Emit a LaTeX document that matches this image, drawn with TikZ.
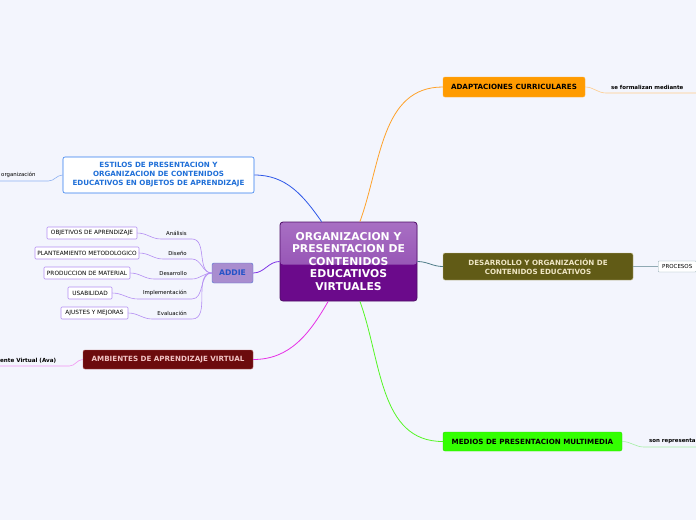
\documentclass[tikz,border=0pt]{standalone}
\usepackage{fontspec}
\setmainfont{DejaVu Sans}
\definecolor{fondo}{HTML}{F3F5FD}
\definecolor{moradoA}{HTML}{A86FC3}
\definecolor{moradoB}{HTML}{8A42AC}
\definecolor{moradoC}{HTML}{6B0A8B}
\definecolor{moradoD}{HTML}{4E0D66}
\definecolor{naranja}{HTML}{FF9B00}
\definecolor{naranjaL}{HTML}{FFA22A}
\definecolor{naranjaS}{HTML}{FFCB8A}
\definecolor{azul}{HTML}{2F7BEF}
\definecolor{azulT}{HTML}{1F6FD8}
\definecolor{azulL}{HTML}{2D57E8}
\definecolor{azulS}{HTML}{8FB2F2}
\definecolor{addieF}{HTML}{A98DCF}
\definecolor{addieT}{HTML}{2453C8}
\definecolor{lila}{HTML}{B48EF3}
\definecolor{lilaL}{HTML}{7F35E6}
\definecolor{granate}{HTML}{6C0B0D}
\definecolor{granateB}{HTML}{B05A5A}
\definecolor{rosaT}{HTML}{F2C4C4}
\definecolor{magenta}{HTML}{E630E6}
\definecolor{magentaS}{HTML}{F294F2}
\definecolor{oliva}{HTML}{615B16}
\definecolor{olivaB}{HTML}{C9C28F}
\definecolor{olivaT}{HTML}{EFE6C4}
\definecolor{petroleo}{HTML}{4E7C88}
\definecolor{petroleoS}{HTML}{8FA9B3}
\definecolor{verde}{HTML}{33FF00}
\definecolor{verdeL}{HTML}{55F526}
\definecolor{verdeS}{HTML}{A4EFA4}
\begin{document}
\begin{tikzpicture}[x=1pt, y=-1pt,
    every node/.style={inner sep=0pt, font=\fontsize{5.8}{7}\selectfont},
    tema/.style={draw, rounded corners=2pt, align=center,
                 font=\bfseries\fontsize{7.15}{9}\selectfont},
    hoja/.style={draw=lila, fill=white, rounded corners=1pt,
                 minimum height=12pt, line width=0.6pt},
    rama/.style={inner xsep=5pt, inner ysep=3pt, anchor=south east,
                 font=\fontsize{5.4}{6}\selectfont},
    linea/.style={line width=0.8pt}]
  \useasboundingbox (0,0) rectangle (696,520);
  \fill[fondo] (0,0) rectangle (696,520);
  \clip (0,0) rectangle (696,520);

  % centro
  \node[draw=moradoD, fill=moradoC, rounded corners=3pt, line width=0.8pt,
        minimum width=137pt, minimum height=79pt, align=center, text=white,
        font=\bfseries\fontsize{10.8}{12.5}\selectfont,
        path picture={\shade[top color=moradoA, bottom color=moradoB]
          (path picture bounding box.north west) rectangle
          ([yshift=-3pt]path picture bounding box.east);}]
        (centro) at (348.5,261.5)
        {ORGANIZACION Y\\PRESENTACION DE\\CONTENIDOS\\EDUCATIVOS\\VIRTUALES};

  % temas principales
  \node[tema, fill=naranja, draw=naranja!80!white, minimum width=142pt, minimum height=20pt]
        (adapt) at (514,87) {ADAPTACIONES CURRICULARES};
  \node[tema, fill=white, draw=azul, text=azulT, minimum width=191pt, minimum height=36pt,
        line width=0.6pt]
        (estilos) at (158.5,175)
        {ESTILOS DE PRESENTACION Y\\ORGANIZACION DE CONTENIDOS\\EDUCATIVOS EN OBJETOS DE APRENDIZAJE};
  \node[tema, fill=addieF, draw=addieT!80!white, text=addieT, minimum width=41pt,
        minimum height=20pt, font=\bfseries\fontsize{7.7}{9}\selectfont]
        (addie) at (232.5,273) {ADDIE};
  \node[tema, fill=granate, draw=granateB, text=rosaT, minimum width=170pt, minimum height=19pt]
        (ambientes) at (168,359.5) {AMBIENTES DE APRENDIZAJE VIRTUAL};
  \node[tema, fill=oliva, draw=olivaB, text=olivaT, minimum width=190pt, minimum height=27pt]
        (desarrollo) at (538,266.5)
        {DESARROLLO Y ORGANIZACIÓN DE\\CONTENIDOS EDUCATIVOS};
  \node[tema, fill=verde, draw=verde!85!black, minimum width=179pt, minimum height=19pt]
        (medios) at (532.5,441.5) {MEDIOS DE PRESENTACION MULTIMEDIA};

  % hojas
  \node[hoja, minimum width=90pt]  (objetivos)  at (92,233)   {OBJETIVOS DE APRENDIZAJE};
  \node[hoja, minimum width=104pt] (plan)       at (87,253)   {PLANTEAMIENTO METODOLOGICO};
  \node[hoja, minimum width=86pt]  (produccion) at (87,273)   {PRODUCCION DE MATERIAL};
  \node[hoja, minimum width=44pt]  (usabilidad) at (90,293)   {USABILIDAD};
  \node[hoja, minimum width=67pt]  (ajustes)    at (94.5,313) {AJUSTES Y MEJORAS};
  \node[draw=petroleoS, fill=white, rounded corners=1pt, minimum height=11pt,
        inner xsep=4pt, font=\fontsize{5.5}{6}\selectfont, anchor=west]
        (procesos) at (658,266.5) {PROCESOS};

  % etiquetas de rama
  \node[rama] (analisis) at (192,239) {Análisis};
  \node[rama] (diseno)   at (192,259) {Diseño};
  \node[rama] (desa)     at (192,279) {Desarrollo};
  \node[rama] (impl)     at (192,299) {Implementación};
  \node[rama] (eval)     at (192,319) {Evaluación};
  \node[rama, anchor=south west, text width=95pt, align=left,
        font=\bfseries\fontsize{5.45}{6}\selectfont] (formal) at (606,93) {se formalizan mediante};
  \node[rama, anchor=south west, text width=42pt, align=left,
        font=\fontsize{5.4}{6}\selectfont] (org) at (-4,181) {organización};
  \node[rama, anchor=south west, text width=64pt, align=left,
        font=\bfseries\fontsize{5.6}{6}\selectfont] (ava) at (-5,366) {ente Virtual (Ava)};
  \node[rama, anchor=south west, text width=60pt, align=left,
        font=\bfseries\fontsize{5.45}{6}\selectfont] (son) at (644,447) {son representa};

  % conectores
  \draw[linea, azulL] (centro.124) to[out=125, in=0] (estilos.east);
  \draw[linea, naranjaL] (centro.74) to[out=70, in=180] (adapt.west);
  \draw[linea, petroleo] (centro.east) to[out=0, in=180] (desarrollo.west);
  \draw[linea, lilaL] (centro.west) to[out=180, in=0] (addie.east);
  \draw[linea, magenta] (centro.243) to[out=240, in=0] (ambientes.east);
  \draw[linea, verdeL] (centro.286) to[out=290, in=180] (medios.west);

  \draw[line width=0.6pt, lila] (objetivos.east) to[out=0, in=180] (analisis.south west)
      -- (analisis.south east) to[out=0, in=180] (addie.west);
  \draw[line width=0.6pt, lila] (plan.east) to[out=0, in=180] (diseno.south west)
      -- (diseno.south east) to[out=0, in=180] (addie.west);
  \draw[line width=0.6pt, lila] (produccion.east) to[out=0, in=180] (desa.south west)
      -- (desa.south east) to[out=0, in=180] (addie.west);
  \draw[line width=0.6pt, lila] (usabilidad.east) to[out=0, in=180] (impl.south west)
      -- (impl.south east) to[out=0, in=180] (addie.west);
  \draw[line width=0.6pt, lila] (ajustes.east) to[out=0, in=180] (eval.south west)
      -- (eval.south east) to[out=0, in=180] (addie.west);

  \draw[line width=0.6pt, naranjaS] (adapt.east) to[out=0, in=180] (formal.south west)
      -- (formal.south east);
  \draw[line width=0.6pt, azulS] (estilos.west) to[out=180, in=0] (org.south east)
      -- (org.south west);
  \draw[line width=0.6pt, magentaS] (ambientes.west) to[out=180, in=0] (ava.south east)
      -- (ava.south west);
  \draw[line width=0.6pt, petroleoS] (desarrollo.east) to[out=0, in=180] (procesos.west);
  \draw[line width=0.6pt, verdeS] (medios.east) to[out=0, in=180] (son.south west)
      -- (son.south east);
\end{tikzpicture}
\end{document}
